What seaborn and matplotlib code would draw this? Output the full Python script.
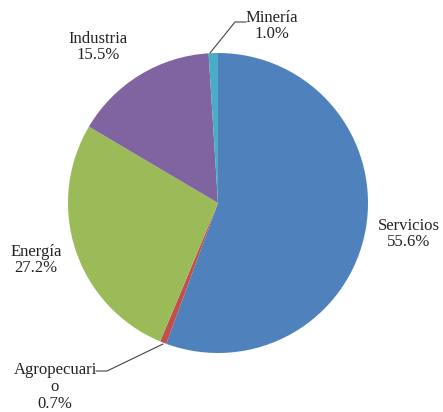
import matplotlib
matplotlib.use('Agg')
import matplotlib.pyplot as plt
import seaborn as sns

sns.set_style('white')
plt.rcParams['font.family'] = ['Liberation Serif', 'DejaVu Serif']

# Participación por sector
sectores = ['Servicios', 'Agropecuario', 'Energía', 'Industria', 'Minería']
porcentajes = [55.6, 0.7, 27.2, 15.5, 1.0]
etiquetas = ['Servicios\n55.6%', 'Agropecuari\no\n0.7%', 'Energía\n27.2%',
             'Industria\n15.5%', 'Minería\n1.0%']
colores = ['#4F81BD', '#C0504D', '#9BBB59', '#8064A2', '#4BACC6']

fig = plt.figure(figsize=(4.43, 4.12), dpi=100)
ax = fig.add_axes([0, 0, 1, 1])

# pixel-like coordinates: y measured upward from bottom
cx, cy, r = 218, 412 - 203, 150
ax.pie(porcentajes, colors=colores, startangle=90, counterclock=False,
       center=(cx, cy), radius=r, wedgeprops=dict(linewidth=0))

# label placement (Excel-like)
pos = [(409, 412 - 234), (55, 412 - 387), (36, 412 - 260),
       (98, 412 - 47), (272, 412 - 26)]
for lab, (x, y) in zip(etiquetas, pos):
    ax.text(x, y, lab, ha='center', va='center', fontsize=12,
            linespacing=1.05, color='#222222')

# leader lines
ax.plot([210, 235, 246], [412 - 53, 412 - 22, 412 - 22], color='#444444', lw=0.8)
ax.plot([96, 107, 163], [412 - 371, 412 - 371, 412 - 344], color='#444444', lw=0.8)

ax.set_xlim(0, 443)
ax.set_ylim(0, 412)
ax.set_aspect('equal')
ax.axis('off')

fig.savefig('out.png', dpi=100)
